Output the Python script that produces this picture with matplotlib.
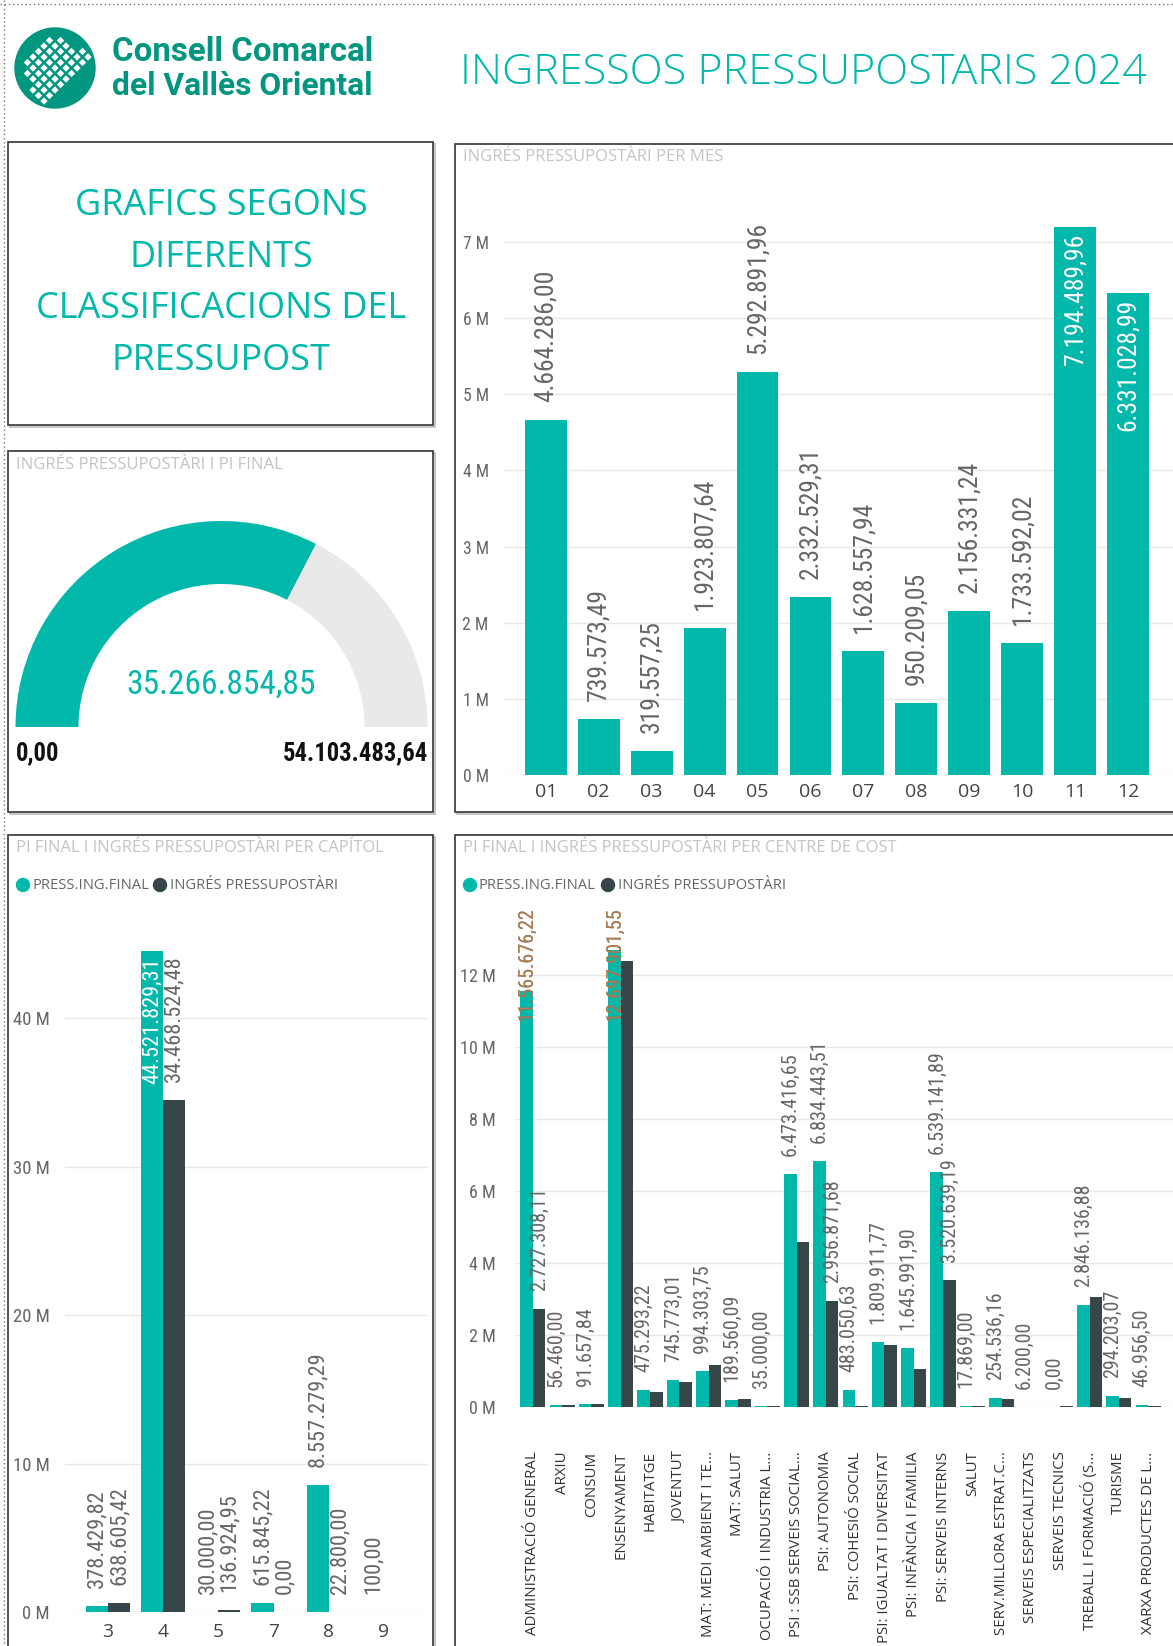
import matplotlib
matplotlib.use('Agg')
import matplotlib.pyplot as plt
import numpy as np
from matplotlib import font_manager as fm
from matplotlib.patches import Rectangle, Wedge, Circle, RegularPolygon
from matplotlib.path import Path
from matplotlib.textpath import TextPath
from matplotlib.font_manager import FontProperties

# --- dades ---
mesos = ['01', '02', '03', '04', '05', '06', '07', '08', '09', '10', '11', '12']
ingres_mes = [4664286.00, 739573.49, 319557.25, 1923807.64, 5292891.96, 2332529.31,
              1628557.94, 950209.05, 2156331.24, 1733592.02, 7194489.96, 6331028.99]

capitols = ['3', '4', '5', '7', '8', '9']
cap_final = [378429.82, 44521829.31, 30000.00, 615845.22, 8557279.29, 100.00]
cap_ingres = [638605.42, 34468524.48, 136924.95, 0.00, 22800.00, np.nan]

centres = ['ADMINISTRACIÓ GENERAL', 'ARXIU', 'CONSUM', 'ENSENYAMENT', 'HABITATGE',
           'JOVENTUT', 'MAT: MEDI AMBIENT I TE...', 'MAT: SALUT', 'OCUPACIÓ I INDUSTRIA L...',
           'PSI : SSB SERVEIS SOCIAL...', 'PSI: AUTONOMIA', 'PSI: COHESIÓ SOCIAL',
           'PSI: IGUALTAT I DIVERSITAT', 'PSI: INFÀNCIA I FAMILIA', 'PSI: SERVEIS INTERNS',
           'SALUT', 'SERV.MILLORA ESTRAT.C...', 'SERVEIS ESPECIALITZATS', 'SERVEIS TECNICS',
           'TREBALL I FORMACIÓ (S...', 'TURISME', 'XARXA PRODUCTES DE L...']
cc_final = [11565676.22, 56460.00, 91657.84, 12697901.55, 475293.22, 745773.01, 994303.75,
            189560.09, 35000.00, 6473416.65, 6834443.51, 483050.63, 1809911.77, 1645991.90,
            6539141.89, 17869.00, 254536.16, 6200.00, 0.00, 2846136.88, 294203.07, 46956.50]
cc_ingres = [2727308.11, 55000, 90000, 12400000, 410000, 700000, 1180000, 220000, 35000,
             4600000, 2956871.68, 40000, 1730000, 1060000, 3520639.19, 17000, 210000, 0,
             18000, 3050000, 250000, 40000]
cc_label_ingres = [True, False, False, False, False, False, False, False, False, False, True,
                   False, False, False, True, False, False, False, False, False, False, False]

gauge_min = 0.00
gauge_max = 54103483.64
gauge_val = 35266854.85

W, H = 1173, 1646
TEAL = '#01B8AA'
DARK = '#374649'
LOGO = '#00967f'

names = {f.name for f in fm.fontManager.ttflist}
NUM = 'Roboto'
for cand in ['Liberation Sans Narrow', 'Roboto Condensed']:
    if cand in names:
        NUM = cand
        break
UI = 'Open Sans'


def fit(s, width_px, family, weight='normal'):
    fp = FontProperties(family=family, weight=weight)
    w = TextPath((0, 0), s, size=100, prop=fp).get_extents().width
    return 72 * width_px / w


def text_px(s, size, family):
    fp = FontProperties(family=family)
    w = TextPath((0, 0), s, size=100, prop=fp).get_extents().width
    return w * size / 72


def fmt(v):
    s = f'{v:,.2f}'
    return s.replace(',', 'X').replace('.', ',').replace('X', '.')


fig = plt.figure(figsize=(W / 100, H / 100), dpi=100)
bg = fig.add_axes([0, 0, 1, 1])
bg.set_xlim(0, W)
bg.set_ylim(H, 0)
bg.axis('off')


def add_ax(x0, y0, x1, y1):
    a = fig.add_axes([x0 / W, 1 - y1 / H, (x1 - x0) / W, (y1 - y0) / H])
    a.set_facecolor('none')
    return a


# marc puntejat i panells
bg.plot([4, 4], [0, H], ls=(0, (1, 2)), color='#777777', lw=1)
bg.plot([0, W], [4, 4], ls=(0, (1, 2)), color='#777777', lw=1)
for (x0, y0, x1, y1) in [(8, 142, 433, 425), (8, 451, 433, 812), (455, 144, 1190, 812),
                         (8, 835, 433, 1670), (455, 835, 1190, 1670)]:
    bg.add_patch(Rectangle((x0 + 2, y0 + 2), x1 - x0, y1 - y0, fill=False, ec='#bbbbbb', lw=1.2))
    bg.add_patch(Rectangle((x0, y0), x1 - x0, y1 - y0, fc='white', ec='#333333', lw=1.2))

# logo
bg.add_patch(Circle((55, 68), 40, color=LOGO))
mask = Path([(-5, -28), (10, -28), (13, -22), (25, -22), (33, -16), (33, -1), (-12, 35),
             (-22, 27), (-27, 11), (-33, -6), (-31, -14), (-13, -21), (-9, -27)])
half = 5.5
for i in range(-8, 9):
    for j in range(-8, 9):
        if (i + j) % 2:
            continue
        px, py = i * half, j * half
        if mask.contains_point((px, py)):
            bg.add_patch(RegularPolygon((55 + px, 68 + py), 4, radius=3.7, color='white', lw=0))

HB = 'Liberation Sans Narrow' if 'Liberation Sans Narrow' in names else 'Roboto'
bg.text(112, 52, 'Consell Comarcal', fontsize=fit('Consell Comarcal', 258, HB, 'bold'),
        family=HB, weight='bold', color=LOGO, va='center', ha='left')
bg.text(112, 86, 'del Vallès Oriental', fontsize=fit('del Vallès Oriental', 258, HB, 'bold'),
        family=HB, weight='bold', color=LOGO, va='center', ha='left')

title = 'INGRESSOS PRESSUPOSTARIS 2024'
bg.text(460, 73, title, fontsize=fit(title, 681, UI, 'light'), family=UI, weight='light',
        color=TEAL, va='center', ha='left')

# caixa de text
box_lines = ['GRAFICS SEGONS', 'DIFERENTS', 'CLASSIFICACIONS DEL', 'PRESSUPOST']
fs_box = fit('CLASSIFICACIONS DEL', 366, UI)
for k, ln in enumerate(box_lines):
    bg.text(221, 206 + k * 51.5, ln, fontsize=fs_box, family=UI, color=TEAL,
            ha='center', va='center')

# titols de panells
TCOL = '#c4c4c4'
for (x, y, s, wpx) in [(16, 465, 'INGRÉS PRESSUPOSTÀRI I PI FINAL', 265),
                       (463, 157, 'INGRÉS PRESSUPOSTÀRI PER MES', 257),
                       (16, 848, 'PI FINAL I INGRÉS PRESSUPOSTÀRI PER CAPÍTOL', 367),
                       (463, 848, 'PI FINAL I INGRÉS PRESSUPOSTÀRI PER CENTRE DE COST', 433)]:
    bg.text(x, y, s, fontsize=fit(s, wpx, UI), family=UI, color=TCOL, ha='left', va='center')

# gauge
cx, cy, R, r = 221.5, 727, 206, 143
ang = 180 + 180 * (gauge_val - gauge_min) / (gauge_max - gauge_min)
bg.add_patch(Wedge((cx, cy), R, 180, ang, width=R - r, color=TEAL, lw=0))
bg.add_patch(Wedge((cx, cy), R, ang, 360, width=R - r, color='#E9E9E9', lw=0))
sv = fmt(gauge_val)
bg.text(cx, 685, sv, fontsize=fit(sv, 187, NUM), family=NUM, color=TEAL, ha='center', va='center')
s0, s1 = fmt(gauge_min), fmt(gauge_max)
fsb = fit(s1, 143, NUM, 'bold')
bg.text(16, 753, s0, fontsize=fsb, family=NUM, weight='bold', color='#111111', ha='left', va='center')
bg.text(428, 753, s1, fontsize=fsb, family=NUM, weight='bold', color='#111111', ha='right', va='center')

# legendes
LCOL = '#666666'
fs_leg = fit('PRESS.ING.FINAL', 114, UI)
for (x0, x1) in [(23, 160), (470, 608)]:
    bg.add_patch(Circle((x0, 885), 6.5, color=TEAL))
    bg.text(x0 + 9, 885, 'PRESS.ING.FINAL', fontsize=fs_leg, family=UI, color=LCOL, va='center')
    bg.add_patch(Circle((x1, 885), 6.5, color=DARK))
    bg.text(x1 + 10, 885, 'INGRÉS PRESSUPOSTÀRI', fontsize=fs_leg, family=UI, color=LCOL, va='center')


def style(ax, ymax, step_m, xlim, ylab_w, ylab_ref, ypad):
    ax.set_ylim(0, ymax)
    ax.set_xlim(*xlim)
    ticks = np.arange(0, ymax, step_m * 1e6)
    fs = fit(ylab_ref, ylab_w, NUM)
    ax.set_yticks(ticks, labels=[f'{t / 1e6:.0f} M' for t in ticks], fontfamily=NUM,
                  fontsize=fs, color='#666666')
    for sp in ax.spines.values():
        sp.set_visible(False)
    ax.grid(axis='y', color='#e8e8e8', lw=1)
    ax.set_axisbelow(True)
    ax.tick_params(axis='both', length=0)
    ax.tick_params(axis='y', pad=ypad)


def bar_labels(ax, rects, vals, fs, show=None, gap=18):
    bb = ax.get_position()
    y0, y1 = ax.get_ylim()
    xl = ax.get_xlim()
    ax_h = bb.height * H
    ppu = ax_h / (y1 - y0)
    ppx = bb.width * W / (xl[1] - xl[0])
    for k, (rc, v) in enumerate(zip(rects, vals)):
        if show is not None and not show[k]:
            continue
        if v is None or np.isnan(v):
            continue
        s = fmt(v)
        L = text_px(s, fs, NUM)
        xc = rc.get_x() + rc.get_width() / 2
        if v * ppu + gap + L <= ax_h - 2:
            ax.annotate(s, (xc, v), xytext=(0, gap * 0.72), textcoords='offset points',
                        rotation=90, ha='center', va='bottom', fontsize=fs, family=NUM,
                        color='#666666')
        elif rc.get_width() * ppx >= 18:
            ax.annotate(s, (xc, v), xytext=(0, -6 * 0.72), textcoords='offset points',
                        rotation=90, ha='center', va='top', fontsize=fs, family=NUM,
                        color='white')
        else:
            ax.text(xc, y1, s, rotation=90, ha='center', va='top', fontsize=fs, family=NUM,
                    color='#666666')
            t2 = ax.text(xc, y1, s, rotation=90, ha='center', va='top', fontsize=fs,
                         family=NUM, color='#b0804f')
            t2.set_clip_path(rc)


# ingrés per mes
ax1 = add_ax(504, 219, 1173, 775)
x1 = np.arange(len(mesos))
b1 = ax1.bar(x1, ingres_mes, width=0.79, color=TEAL)
style(ax1, 7.3e6, 1, (-0.79, 11.85), 24, '7 M', 11)
ax1.set_xticks(x1, labels=mesos, fontfamily=UI, fontsize=fit('01', 17, UI), color='#444444')
ax1.tick_params(axis='x', pad=6)
bar_labels(ax1, b1.patches, ingres_mes, fit('4.664.286,00', 130, NUM))

# per capítol
ax2 = add_ax(65, 923, 428, 1612)
x2 = np.arange(len(capitols))
bw2 = 0.40
b2a = ax2.bar(x2 - bw2 / 2, cap_final, width=bw2, color=TEAL)
b2b = ax2.bar(x2 + bw2 / 2, np.nan_to_num(cap_ingres), width=bw2, color=DARK)
style(ax2, 46.4e6, 10, (-0.78, 5.8), 35, '40 M', 11)
ax2.set_xticks(x2, labels=capitols, fontfamily=UI, fontsize=fit('3', 9, UI), color='#444444')
ax2.tick_params(axis='x', pad=8)
fs2 = fit('8.557.279,29', 113, NUM)
bar_labels(ax2, b2a.patches, cap_final, fs2)
bar_labels(ax2, b2b.patches, cap_ingres, fs2)

# per centre de cost
ax3 = add_ax(515, 907, 1173, 1407)
x3 = np.arange(len(centres))
bw3 = 0.43
b3a = ax3.bar(x3 - bw3 / 2, cc_final, width=bw3, color=TEAL)
b3b = ax3.bar(x3 + bw3 / 2, cc_ingres, width=bw3, color=DARK)
style(ax3, 13.9e6, 2, (-0.61, 21.85), 33, '12 M', 14)
ax3.set_xticks(x3, labels=centres, rotation=90, fontfamily=UI,
               fontsize=fit('ADMINISTRACIÓ GENERAL', 184, UI), color='#333333')
ax3.tick_params(axis='x', pad=32)
fs3 = fit('6.473.416,65', 102, NUM)
bar_labels(ax3, b3a.patches, cc_final, fs3)
bar_labels(ax3, b3b.patches, cc_ingres, fs3, show=cc_label_ingres)

fig.savefig('out.png', dpi=100)
